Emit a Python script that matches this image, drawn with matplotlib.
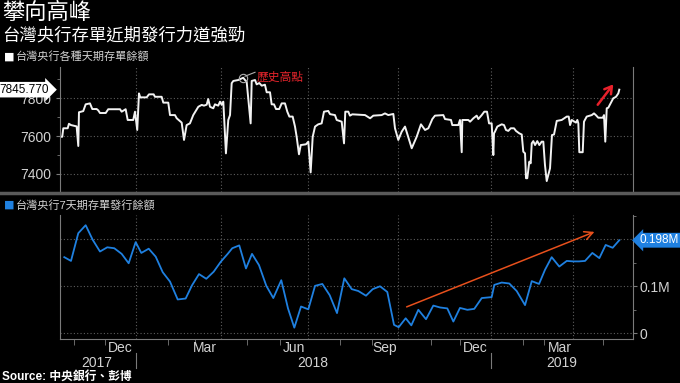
import matplotlib.pyplot as plt
from matplotlib.lines import Line2D
from matplotlib.transforms import blended_transform_factory as blend

plt.rcParams['font.family'] = ['Liberation Sans', 'Noto Sans CJK TC', 'DejaVu Sans']

# x positions are chart days counted from 2018-01-01
top_x = [-78.9, -75.5, -74.4, -69.9, -68.6, -66.5, -60.7, -59.0, -58.3, -53.9,
         -51.4, -47.0, -44.6, -40.1, -38.5, -36.7, -30.8, -28.2, -16.1, -14.4,
         -10.3, -8.2, -2.5, -0.7, 1.6, 3.4, 4.7, 11.3, 13.7, 18.5,
         19.8, 26.7, 28.4, 33.5, 35.3, 40.4, 42.2, 47.3, 49.7, 52.4,
         55.8, 59.2, 64.4, 67.9, 70.2, 73.0, 74.6, 76.4, 79.8, 81.5,
         84.9, 86.7, 88.4, 90.1, 92.8, 95.2, 97.0, 98.7, 100.4, 105.5,
         110.6, 112.4, 114.1, 118.2, 119.3, 122.7, 124.4, 127.1, 129.6, 132.9,
         134.7, 138.1, 139.8, 142.2, 144.3, 147.6, 150.1, 153.5, 155.9, 158.0,
         161.4, 163.8, 165.5, 167.9, 169.7, 175.1, 177.5, 179.9, 182.0, 184.4,
         187.7, 191.2, 193.6, 198.0, 199.8, 204.9, 206.7, 211.8, 214.2, 215.5,
         218.6, 220.3, 222.7, 235.8, 241.0, 244.3, 252.9, 256.3, 259.7, 264.9,
         266.6, 270.0, 273.5, 276.9, 283.8, 288.9, 293.3, 297.5, 300.9, 305.0,
         307.7, 316.3, 318.0, 324.2, 325.5, 331.7, 333.4, 335.2, 335.8, 342.0,
         343.8, 347.2, 350.6, 352.3, 355.8, 358.4, 361.2, 363.3, 366.0, 367.7,
         368.4, 369.4, 371.8, 376.3, 378.7, 380.7, 383.1, 385.6, 389.0, 391.0,
         394.4, 396.9, 398.5, 400.3, 401.3, 402.6, 404.7, 406.1, 407.2, 408.8,
         410.6, 412.9, 415.0, 417.4, 419.1, 420.8, 422.6, 424.2, 426.0, 428.0,
         430.1, 432.9, 438.0, 443.2, 445.2, 446.6, 448.3, 452.7, 454.1, 455.1,
         456.1, 459.6, 460.9, 463.7, 468.9, 471.2, 473.3, 475.6, 480.2, 481.5,
         482.8, 484.3, 485.9, 488.3, 491.0, 493.8, 496.2, 497.2]
top_val = [7596, 7596, 7641, 7641, 7665, 7658, 7651, 7547, 7726, 7732,
           7768, 7773, 7743, 7743, 7736, 7722, 7722, 7742, 7742, 7729,
           7742, 7685, 7685, 7729, 7632, 7826, 7805, 7805, 7821, 7821,
           7808, 7808, 7777, 7777, 7711, 7711, 7694, 7671, 7579, 7658,
           7667, 7711, 7755, 7765, 7761, 7766, 7796, 7755, 7747, 7768,
           7761, 7782, 7766, 7782, 7508, 7685, 7711, 7880, 7892, 7897,
           7909, 7897, 7888, 7667, 7892, 7897, 7874, 7881, 7867, 7872,
           7832, 7832, 7768, 7768, 7743, 7743, 7773, 7773, 7729, 7703,
           7703, 7650, 7596, 7503, 7552, 7556, 7570, 7407, 7596, 7650,
           7662, 7667, 7729, 7733, 7716, 7711, 7685, 7676, 7561, 7729,
           7729, 7708, 7715, 7711, 7694, 7708, 7711, 7720, 7711, 7717,
           7641, 7579, 7623, 7650, 7535, 7596, 7662, 7632, 7641, 7690,
           7708, 7711, 7690, 7685, 7658, 7658, 7685, 7514, 7685, 7685,
           7676, 7694, 7708, 7690, 7711, 7729, 7729, 7667, 7667, 7499,
           7614, 7623, 7650, 7662, 7658, 7632, 7627, 7641, 7641, 7627,
           7614, 7608, 7517, 7508, 7376, 7376, 7464, 7455, 7561, 7573,
           7552, 7573, 7552, 7570, 7570, 7446, 7361, 7393, 7429, 7605,
           7608, 7680, 7685, 7703, 7703, 7658, 7685, 7671, 7685, 7667,
           7514, 7514, 7676, 7703, 7711, 7720, 7710, 7697, 7697, 7711,
           7570, 7747, 7750, 7773, 7800, 7808, 7826, 7845.77]

bot_x = [-73.4, -66.5, -59.0, -51.4, -44.2, -36.7, -29.2, -22.0, -14.4, -7.2,
         0.0, 5.8, 13.4, 20.6, 27.8, 35.3, 43.2, 51.4, 57.9, 65.1,
         72.6, 80.2, 87.4, 94.6, 99.3, 106.5, 113.4, 119.6, 126.8, 134.3,
         141.5, 149.7, 156.6, 163.1, 170.0, 177.5, 184.4, 191.9, 199.5, 207.0,
         214.5, 222.1, 228.9, 236.8, 243.7, 251.2, 258.7, 265.6, 270.4, 277.6,
         283.4, 290.6, 298.5, 306.0, 312.9, 320.4, 326.6, 333.4, 341.0, 348.1,
         355.8, 366.0, 368.7, 376.3, 384.1, 391.7, 400.3, 407.2, 414.7, 420.8,
         427.7, 435.5, 443.2, 449.9, 455.8, 462.0, 469.5, 476.7, 483.2, 490.4,
         497.2]
bot_val = [0.162, 0.154, 0.213, 0.230, 0.199, 0.174, 0.183, 0.181, 0.169, 0.149,
           0.194, 0.171, 0.180, 0.163, 0.130, 0.110, 0.072, 0.074, 0.102, 0.126,
           0.116, 0.131, 0.152, 0.169, 0.181, 0.187, 0.138, 0.169, 0.145, 0.101,
           0.075, 0.113, 0.053, 0.012, 0.057, 0.051, 0.101, 0.105, 0.081, 0.043,
           0.117, 0.094, 0.090, 0.080, 0.094, 0.100, 0.088, 0.018, 0.013, 0.032,
           0.017, 0.050, 0.030, 0.059, 0.055, 0.053, 0.025, 0.054, 0.050, 0.052,
           0.075, 0.077, 0.103, 0.108, 0.106, 0.090, 0.060, 0.111, 0.105, 0.135,
           0.162, 0.142, 0.154, 0.153, 0.153, 0.154, 0.171, 0.160, 0.188, 0.182,
           0.198]

quarter_x = [0.0, 88.0, 177.5, 270.0, 365.0, 449.9]
month_x = [-63.5, -31.6, 0.0, 33.5, 61.0, 88.0, 114.8, 148.4, 177.5, 210.3,
           243.4, 270.0, 303.3, 333.4, 365.0, 398.5, 420.1, 449.9, 480.8]
month_lbl = ['Dec', 'Mar', 'Jun', 'Sep', 'Dec', 'Mar']
month_lbl_x = [-16.1, 71.3, 162.4, 256.3, 348.9, 436.6]
year_lbl = ['2017', '2018', '2019']
year_lbl_x = [-39.8, 182.3, 438.3]
year_sep_x = [0.0, 365.0]

grey = '#7a7a7a'
txt = '#d2d2d2'
grid_kw = dict(color='#5e5e5e', linestyle=(0, (1, 2)), linewidth=0.8)

fig = plt.figure(figsize=(6.8, 3.83), dpi=100, facecolor='black')
ax1 = fig.add_axes([60/680, 1-192/383, 573/680, 125/383])
ax2 = fig.add_axes([60/680, 1-339/383, 573/680, 124/383])

for ax in (ax1, ax2):
    ax.set_facecolor('black')
    ax.set_xlim(-77.8, 511.3)
    for s in ax.spines.values():
        s.set_color(grey)
    ax.spines['top'].set_visible(False)
    ax.set_xticks(quarter_x)
    ax.set_xticklabels([])
    ax.tick_params(axis='x', which='major', length=0)
    for q in quarter_x:
        ax.axvline(q, **grid_kw, zorder=0)

# top panel
ax1.spines['bottom'].set_visible(False)
ax1.plot(top_x, top_val, color='#f2f2f2', lw=1.4)
ax1.set_ylim(7303, 7966)
ax1.set_yticks([7400, 7600, 7800])
ax1.set_yticks([7500, 7700, 7900], minor=True)
ax1.tick_params(axis='y', which='both', colors=grey, labelcolor=txt, labelsize=10, length=3)
ax1.tick_params(axis='y', which='minor', length=2)
for v in [7400, 7600, 7800]:
    ax1.axhline(v, **grid_kw, zorder=0)
ax1.text(-0.02, top_val[-1], '%.3f' % top_val[-1], transform=blend(ax1.transAxes, ax1.transData),
         ha='right', va='center', fontsize=8.5, color='black', zorder=10, clip_on=False,
         bbox=dict(boxstyle='rarrow,pad=0.15', fc='white', ec='none'))

# peak note
ax1.plot(110.6, 7909, 'o', mfc='none', mec='#b0b0b0', ms=6, mew=0.8)
ax1.plot([112.4, 122.7], [7917, 7938], color='#b0b0b0', lw=0.8)
ax1.text(124, 7906, '歷史高點', color='#e3242b', fontsize=8.5, va='center', ha='left')
ax1.annotate('', xy=(492.8, 7886), xytext=(473.3, 7754),
             arrowprops=dict(arrowstyle='->,head_length=0.5,head_width=0.3', color='#e8212b', lw=1.8))

# bottom panel
ax2.plot(bot_x, bot_val, color='#1f80e0', lw=1.3)
ax2.set_ylim(-0.0121, 0.2517)
ax2.yaxis.tick_right()
ax2.set_yticks([0, 0.1, 0.2])
ax2.set_yticklabels(['0', '0.1M', ''])
ax2.set_yticks([0.05, 0.15, 0.25], minor=True)
ax2.tick_params(axis='y', which='both', colors=grey, labelcolor=txt, labelsize=10, length=3, pad=2)
ax2.tick_params(axis='y', which='minor', length=2)
for v in [0, 0.1, 0.2]:
    ax2.axhline(v, **grid_kw, zorder=0)
ax2.set_xticks(month_x, minor=True)
ax2.tick_params(axis='x', which='minor', length=4, colors=grey)
ax2.text(1.012, bot_val[-1], '%.3fM' % bot_val[-1], transform=blend(ax2.transAxes, ax2.transData),
         ha='left', va='center', fontsize=8.5, color='white', zorder=10, clip_on=False,
         bbox=dict(boxstyle='larrow,pad=0.12', fc='#1f80e0', ec='none'))
ax2.annotate('', xy=(474.3, 0.218), xytext=(275.9, 0.054),
             arrowprops=dict(arrowstyle='->,head_length=0.6,head_width=0.3', color='#e8501c', lw=1.1))

tr = blend(ax2.transData, ax2.transAxes)
for xv, lb in zip(month_lbl_x, month_lbl):
    ax2.text(xv, -0.075, lb, transform=tr, ha='center', va='center', fontsize=10, color=txt)
for xv, lb in zip(year_lbl_x, year_lbl):
    ax2.text(xv, -0.19, lb, transform=tr, ha='center', va='center', fontsize=10, color=txt)
for xv in year_sep_x:
    ax2.add_line(Line2D([xv, xv], [-0.113, -0.234], transform=tr, color=grey, lw=0.8, clip_on=False))

# header, legends, source
fig.add_artist(Line2D([0, 1], [1-193/383]*2, color='#5a5a5a', lw=2.5, transform=fig.transFigure))
fig.text(0.003, 1-13/383, '攀向高峰', fontsize=16, color='white', va='center')
fig.text(0.003, 1-35/383, '台灣央行存單近期發行力道強勁', fontsize=12.5, color='white', va='center')
fig.text(4/680, 1-57/383, '■', fontsize=8, color='white', va='center', family='DejaVu Sans')
fig.text(16/680, 1-57/383, '台灣央行各種天期存單餘額', fontsize=8, color=txt, va='center')
fig.text(4/680, 1-205/383, '■', fontsize=8, color='#1f80e0', va='center', family='DejaVu Sans')
fig.text(16/680, 1-205/383, '台灣央行7天期存單發行餘額', fontsize=8, color=txt, va='center')
fig.text(0.003, 1-377/383, 'Source: 中央銀行、彭博', fontsize=8.5, fontweight='bold', color='white', va='center')

fig.savefig('out.png', dpi=100, facecolor='black')
